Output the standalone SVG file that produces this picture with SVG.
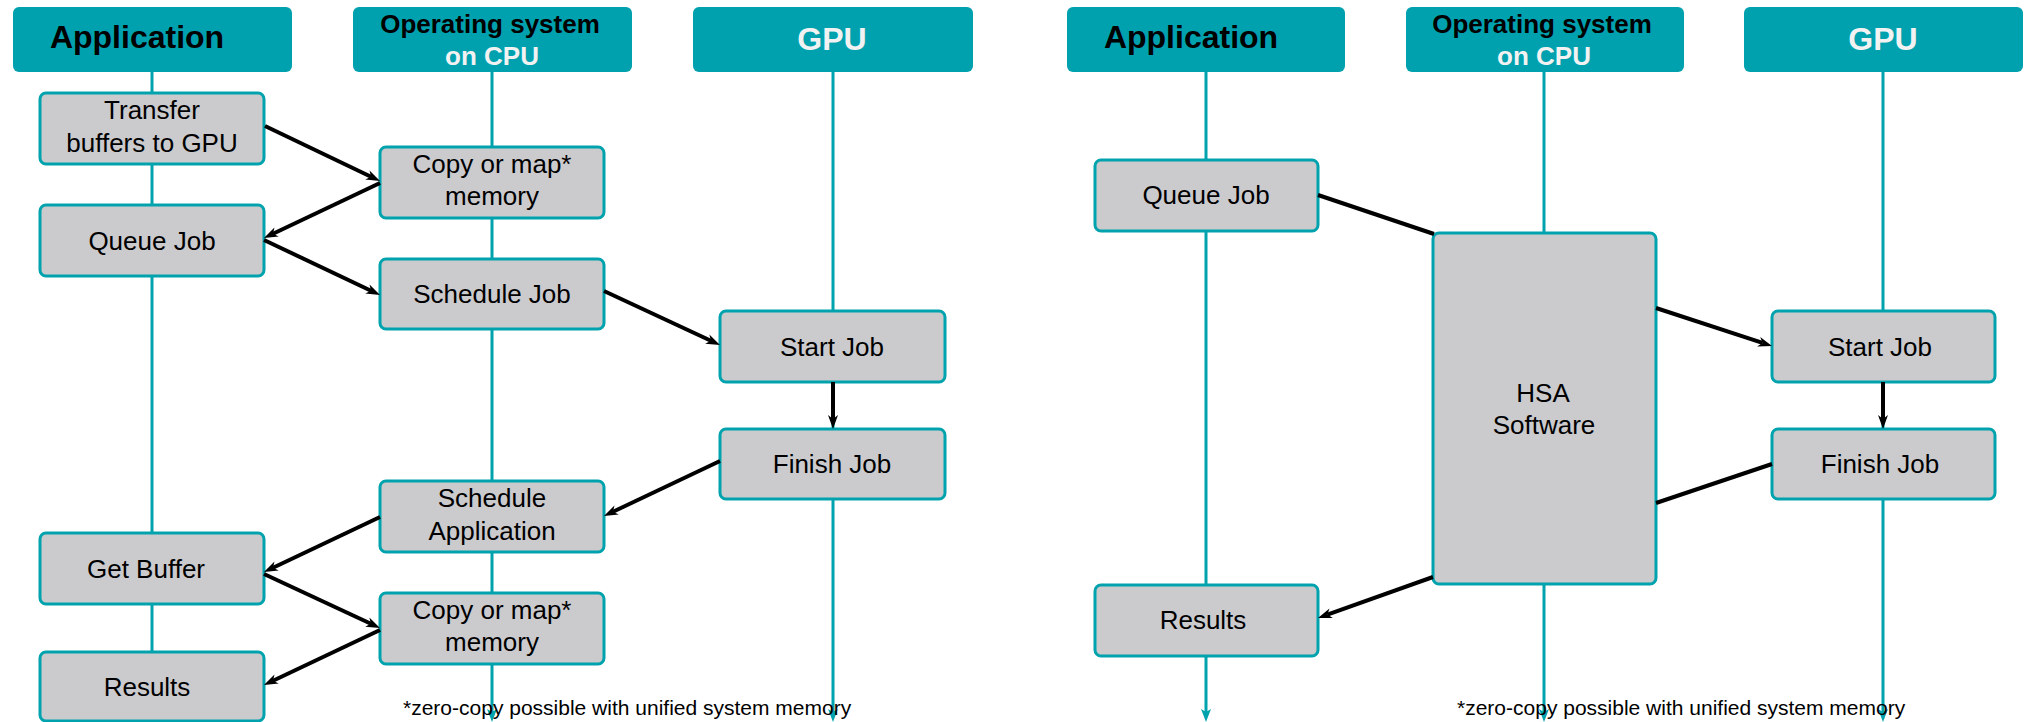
<svg xmlns="http://www.w3.org/2000/svg" width="2024" height="722" viewBox="0 0 2024 722">
<style>
.hdr{fill:#00A1AF}
.life{stroke:#00A3AD;stroke-width:3;fill:none}
.box{fill:#CBCBCE;stroke:#00A3AD;stroke-width:3}
.lbl{font-family:"Liberation Sans",Arial,sans-serif;font-size:26px;fill:#000;text-anchor:middle}
.h1{font-family:"Liberation Sans",Arial,sans-serif;font-size:32px;font-weight:bold;text-anchor:middle}
.h2{font-family:"Liberation Sans",Arial,sans-serif;font-size:26px;font-weight:bold;text-anchor:middle}
.conn{stroke:#000;stroke-width:4;fill:none}
.note{font-family:"Liberation Sans",Arial,sans-serif;font-size:21px;fill:#000}
</style>
<defs>
<marker id="ah" markerUnits="userSpaceOnUse" markerWidth="14" markerHeight="10" refX="4" refY="5" orient="auto" overflow="visible">
<path d="M0,0 L14,5 L0,10 L4,5 Z" fill="#000"/>
</marker>
<marker id="lah" markerUnits="userSpaceOnUse" markerWidth="13" markerHeight="10" refX="3" refY="5" orient="auto" overflow="visible">
<path d="M0,0 L13,5 L0,10 L3,5 Z" fill="#00A3AD"/>
</marker>
</defs>
<rect width="2024" height="722" fill="#fff"/>

<g id="lifelines">
<line class="life" x1="152" y1="72" x2="152" y2="712" marker-end="url(#lah)"/>
<line class="life" x1="492" y1="72" x2="492" y2="712" marker-end="url(#lah)"/>
<line class="life" x1="833" y1="72" x2="833" y2="712" marker-end="url(#lah)"/>
<line class="life" x1="1206" y1="72" x2="1206" y2="712" marker-end="url(#lah)"/>
<line class="life" x1="1544" y1="72" x2="1544" y2="712" marker-end="url(#lah)"/>
<line class="life" x1="1883" y1="72" x2="1883" y2="712" marker-end="url(#lah)"/>
</g>

<g id="hdr-app-l"><rect class="hdr" x="13" y="7" width="279" height="65" rx="6"/><text class="h1" x="137" y="48" fill="#000">Application</text></g>
<g id="hdr-os-l"><rect class="hdr" x="353" y="7" width="279" height="65" rx="6"/><text class="h2" x="490" y="33" fill="#000">Operating system</text><text class="h2" x="492" y="65" fill="#F2F2F2">on CPU</text></g>
<g id="hdr-gpu-l"><rect class="hdr" x="693" y="7" width="280" height="65" rx="6"/><text class="h1" x="832" y="50" fill="#F2F2F2">GPU</text></g>
<g id="hdr-app-r"><rect class="hdr" x="1067" y="7" width="278" height="65" rx="6"/><text class="h1" x="1191" y="48" fill="#000">Application</text></g>
<g id="hdr-os-r"><rect class="hdr" x="1406" y="7" width="278" height="65" rx="6"/><text class="h2" x="1542" y="33" fill="#000">Operating system</text><text class="h2" x="1544" y="65" fill="#F2F2F2">on CPU</text></g>
<g id="hdr-gpu-r"><rect class="hdr" x="1744" y="7" width="279" height="65" rx="6"/><text class="h1" x="1883" y="50" fill="#F2F2F2">GPU</text></g>

<g id="n-transfer"><rect class="box" x="40" y="93" width="224" height="71" rx="6"/><text class="lbl" x="152" y="119">Transfer</text><text class="lbl" x="152" y="152">buffers to GPU</text></g>
<g id="n-copy1"><rect class="box" x="380" y="147" width="224" height="71" rx="6"/><text class="lbl" x="492" y="173">Copy or map*</text><text class="lbl" x="492" y="205">memory</text></g>
<g id="n-queue-l"><rect class="box" x="40" y="205" width="224" height="71" rx="6"/><text class="lbl" x="152" y="250">Queue Job</text></g>
<g id="n-sched"><rect class="box" x="380" y="259" width="224" height="70" rx="6"/><text class="lbl" x="492" y="303">Schedule Job</text></g>
<g id="n-start-l"><rect class="box" x="720" y="311" width="225" height="71" rx="6"/><text class="lbl" x="832" y="356">Start Job</text></g>
<g id="n-finish-l"><rect class="box" x="720" y="429" width="225" height="70" rx="6"/><text class="lbl" x="832" y="473">Finish Job</text></g>
<g id="n-schedapp"><rect class="box" x="380" y="481" width="224" height="71" rx="6"/><text class="lbl" x="492" y="507">Schedule</text><text class="lbl" x="492" y="540">Application</text></g>
<g id="n-getbuf"><rect class="box" x="40" y="533" width="224" height="71" rx="6"/><text class="lbl" x="146" y="578">Get Buffer</text></g>
<g id="n-copy2"><rect class="box" x="380" y="593" width="224" height="71" rx="6"/><text class="lbl" x="492" y="619">Copy or map*</text><text class="lbl" x="492" y="651">memory</text></g>
<g id="n-results-l"><rect class="box" x="40" y="652" width="224" height="69" rx="6"/><text class="lbl" x="147" y="696">Results</text></g>

<g id="n-queue-r"><rect class="box" x="1095" y="160" width="223" height="71" rx="6"/><text class="lbl" x="1206" y="204">Queue Job</text></g>
<g id="n-hsa"><rect class="box" x="1433" y="233" width="223" height="351" rx="6"/><text class="lbl" x="1543" y="402">HSA</text><text class="lbl" x="1544" y="434">Software</text></g>
<g id="n-start-r"><rect class="box" x="1772" y="311" width="223" height="71" rx="6"/><text class="lbl" x="1880" y="356">Start Job</text></g>
<g id="n-finish-r"><rect class="box" x="1772" y="429" width="223" height="70" rx="6"/><text class="lbl" x="1880" y="473">Finish Job</text></g>
<g id="n-results-r"><rect class="box" x="1095" y="585" width="223" height="71" rx="6"/><text class="lbl" x="1203" y="629">Results</text></g>

<g id="connectors">
<line class="conn" x1="265" y1="126" x2="371" y2="176.7" marker-end="url(#ah)"/>
<line class="conn" x1="380" y1="183" x2="273" y2="233.7" marker-end="url(#ah)"/>
<line class="conn" x1="264" y1="240" x2="371" y2="290.7" marker-end="url(#ah)"/>
<line class="conn" x1="604" y1="291" x2="710.9" y2="340.8" marker-end="url(#ah)"/>
<line class="conn" x1="833" y1="382" x2="833" y2="419" marker-end="url(#ah)"/>
<line class="conn" x1="720" y1="461" x2="613" y2="511.7" marker-end="url(#ah)"/>
<line class="conn" x1="380" y1="517" x2="273" y2="567.7" marker-end="url(#ah)"/>
<line class="conn" x1="264" y1="574" x2="370.9" y2="623.8" marker-end="url(#ah)"/>
<line class="conn" x1="380" y1="630" x2="273" y2="680.7" marker-end="url(#ah)"/>
<line class="conn" x1="1318" y1="195" x2="1434" y2="234"/>
<line class="conn" x1="1656" y1="308" x2="1762.5" y2="342.9" marker-end="url(#ah)"/>
<line class="conn" x1="1883" y1="382" x2="1883" y2="419" marker-end="url(#ah)"/>
<line class="conn" x1="1772" y1="464" x2="1656" y2="503"/>
<line class="conn" x1="1433" y1="577" x2="1327.4" y2="614.6" marker-end="url(#ah)"/>
</g>

<g id="notes">
<text class="note" x="403" y="715">*zero-copy possible with unified system memory</text>
<text class="note" x="1457" y="715">*zero-copy possible with unified system memory</text>
</g>
</svg>
